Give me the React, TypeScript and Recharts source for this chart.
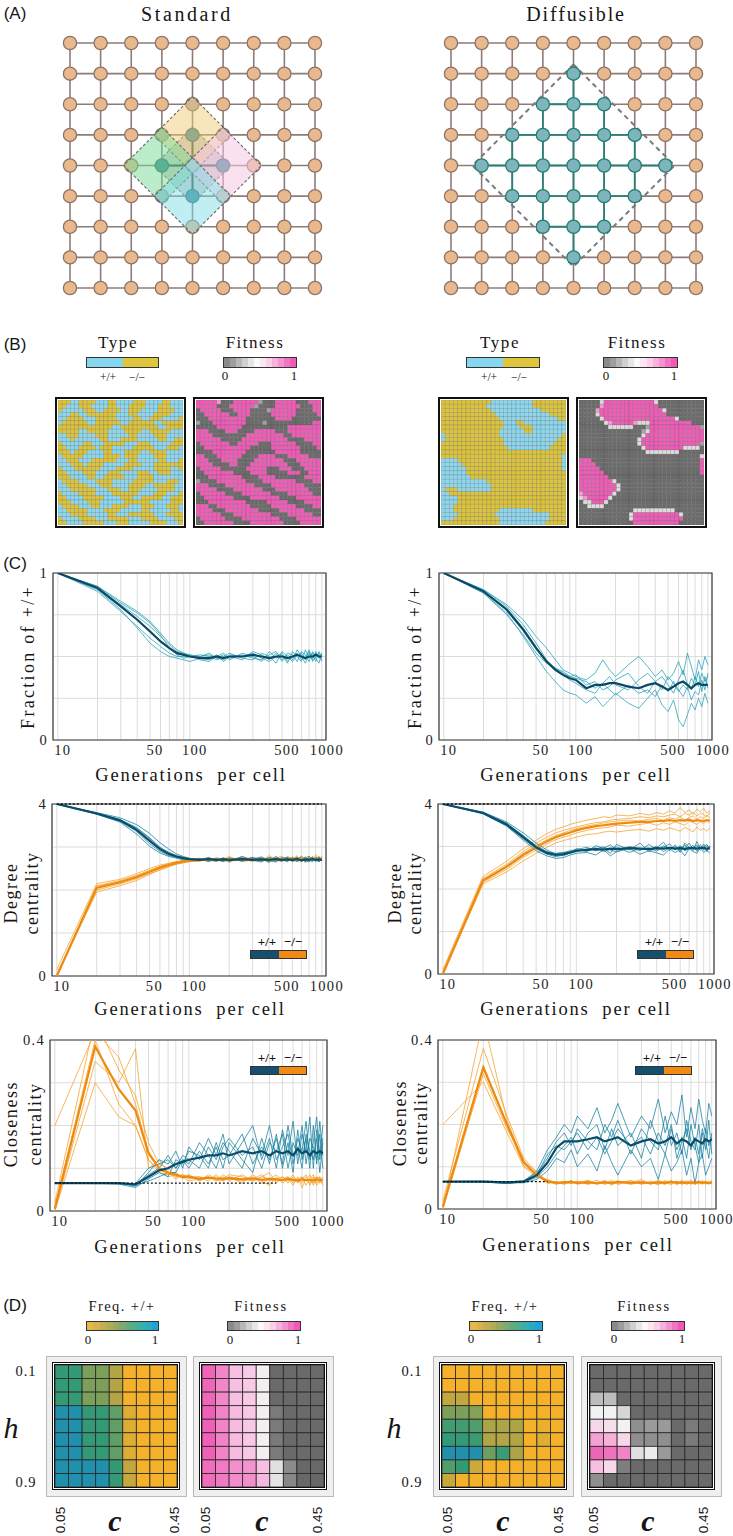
import React from "react";
import {
  ScatterChart,
  Scatter,
  LineChart,
  Line,
  XAxis,
  YAxis,
  CartesianGrid,
  ReferenceArea,
  ReferenceLine,
} from "recharts";

const SERIF = '"Liberation Serif", "Times New Roman", serif';
const SANS = '"Liberation Sans", Arial, sans-serif';

// ---------- (A) lattices ----------
const LAT = [0, 1, 2, 3, 4, 5, 6, 7, 8];
const STD_TEAL = [[4, 4], [4, 3], [3, 4], [5, 4], [4, 5]];
const STD_MAUVE = [[4, 2], [3, 3], [5, 3], [3, 5]];
const STD_ZONES = [
  { c: [4, 4], h: 1.25, fill: "rgba(80,80,80,0.28)" },
  { c: [4, 3], h: 1.25, fill: "rgba(240,205,120,0.5)" },
  { c: [3, 4], h: 1.25, fill: "rgba(120,220,150,0.5)" },
  { c: [5, 4], h: 1.25, fill: "rgba(246,200,228,0.55)" },
  { c: [4, 5], h: 1.25, fill: "rgba(130,222,232,0.5)" },
];
// row, first col, last col of the diffusible neighbourhood (same spans by column)
const DIF_SPANS = [[1, 4, 4], [2, 3, 5], [3, 2, 6], [4, 1, 7], [5, 2, 6], [6, 3, 5], [7, 4, 4]];
const DIF_ZONE = { c: [4, 4], h: 3.3 };

// ---------- (B) snapshots ----------
const STD_TYPE = [
  "yyybbyyyybbbyybbbbyyybbbbyybbb",
  "yybbbyyybbbbyybbbyyyybbbyyybbb",
  "ybbbbbyyybbyyyybbyyybbbbyyyybb",
  "bbbyybbyyyyyyybbbyybbbbyyyybbb",
  "bbyyyybbbyyyyybbbbyybbyyybbbby",
  "byyyyyybbyyyyyybbyyyyyybbyyyyy",
  "yyyyyyyyyyyyybbyyyyyyyyybbyyyy",
  "yyyyybbyyyyybbbbyyyybbyyyyybbb",
  "bbyyybbbbyyybbbbbyybbbbyyybbbb",
  "bbbybbbbbbyybbbyyyybbbbbyybbyy",
  "ybbbbbyybbbyyyyybbbyyybbbbbyyy",
  "yybbbyyyybyyybbbbbyyyyybbbyyyb",
  "yyybyyybbbbyybbbyyyybbyyyybbbb",
  "byyyyybbbbbyyyybyyybbbbyyybbbb",
  "bbyyybbbyyyyyybbbyybbbbbyybbby",
  "bbbyyybyyyybbbbbyyyybbbyyyyyyy",
  "ybbbyyyyyybbbbyyyybbbbbyyyybby",
  "yybbbbyyybbbyyybbbbyyybbyyybbb",
  "yyybbbbyybbyyyyybbbyyyybbbbbbb",
  "byyyybbbbyyyybbbbbyyyyybbbyyyb",
  "bbyyyyybbbyyybbbbyyyybbyyyyybb",
  "bbbyyyyyybbbyyybbyyybbbbyyyybb",
  "ybbbbyyyybbbbyyyyyybbbbyyybbby",
  "yybbbbyyyyybbbbyyybbyyyyybbyyy",
  "yyybbbbyyybbbbbbyyyyyybbbbbyyy",
  "byyyybbbyybbbyyyybbbyyybbbyyyb",
  "bbyyyyybbbbyyyybbbbbyybbbbbyyb",
  "bbbyyyybbbbbyybbbyyyyyybbbyyyy",
  "ybbbbyyyybbbyyyyybbbyyyybbbbyy",
  "yybbbbyyyyybbbyyybbbbbyyyybbby",
];
const STD_FIT = [
  "444443000444444100044444000444",
  "444440004444441000044444400044",
  "044444000444400001444444000044",
  "004444440044400000444444000004",
  "000444444444000000044440000000",
  "100044444444000010000000000044",
  "000004444440000000000044444444",
  "444000044400004444400044444444",
  "444400000000444444444004444444",
  "444444000004444444444400004444",
  "044444440044444000444444000044",
  "004444444444400000444444400004",
  "000044444444000000044444400000",
  "440004444440000444400044444000",
  "444000444400004444444000444444",
  "444400004400044444444400044444",
  "044444000000444440004440004444",
  "004444444000044440000044400444",
  "000444444440000444400000004444",
  "100004444444000044444444000044",
  "444000044444440000444444440000",
  "444440000444444400044444444000",
  "044444400004444444000044444400",
  "004444444000044444440000444444",
  "000444444444000004444400004444",
  "444004444444400000444444000044",
  "444400044444444000004444440000",
  "444444000444444444000044444400",
  "044444400004444444440000444444",
  "004444444000044444444000044444",
];
const DIF_TYPE = [
  "yyyyyyyyyyyybbbbbbbbbbyyyyyyyy",
  "yyyyyyyyyyybbbbbbbbbbbyyyyyyyy",
  "yyyyyyyyyyyybbbbbbbbbbbbyyyyyy",
  "yyyyyyyyyyyyybbbbbbbbbbbbbyyyy",
  "yyyyyyyyyyyyyybbbbbbbbbbbbbbyy",
  "yyyyyyyyyyyyyyybbbyybbbbbbbbbb",
  "yyyyyyyyyyyyyyybbbbyyybbbbbbbb",
  "yyyyyyyyyyyyyybbbbbbyybbbbbbbb",
  "byyyyyyyyyyyyybbbbbbbbbbbbbbby",
  "byyyyyyyyyyyyyybbbbbbbbbbbbbyy",
  "yyyyyyyyyyyyyyybbbbbbbbbbbbyyy",
  "yyyyyyyyyyyyyyyybbbbbbbbbbyyyy",
  "yyyyyyyyyyyyyyyyyyyyyyyyyyyyyy",
  "yyyyyyyyyyyyyyyyyyyyyyyyyyyyyb",
  "bbbbyyyyyyyyyyyyyyyyyyyyyyyyyb",
  "bbbbbyyyyyyyyyyyyyyyyyyyyyyyyb",
  "bbbbbbyyyyyyyyyyyyyyyyyyyyyyyb",
  "bbbbbbyyyyyyyyyyyyyyyyyyyyyyyy",
  "bbbbbbbyyyyyyyyyyyyyyyyyyyyyyy",
  "bbbbbbbbbbbyyyyyyyyyyyyyyyyyyy",
  "bbbbbbbbbbbbyyyyyyyyyyyyyyyyyy",
  "byyybbbbbbbbyyyyyyyyyyyyyyyyyy",
  "bbyyyyyyyyyyyyyyyyyyyyyyyyyyyy",
  "bbbbyyyyyyyyyyyyyyyyyyyyyyyyyy",
  "bbbbyyyyyyyyyyyyyyyyyyyyyyyyyy",
  "bbbyyyyyyyyyyyyyyyyyyyyyyyyyyy",
  "bbbyyyyyyyyyyybbbbbbbbyyyyyyyy",
  "bbbbyyyyyyyyybbbbbbbbbbbbbyyyy",
  "bbbyyyyyyyyyyybbbbbbbbbbbbyyyy",
  "yyyyyyyyyyyyyybbbbbbbbbbbyyyyy",
];
const DIF_FIT = [
  "000002444444444444200000000000",
  "000003444444444444400000000000",
  "000034444444444444442000000000",
  "000024444444444444444000000000",
  "000002444444444444444442000000",
  "000000234444432224444444444000",
  "000000022222200014444444444441",
  "000000000000000124444444444444",
  "000000000000000244444444444444",
  "000000000000002444444444444444",
  "000000000000002444444444444441",
  "000000000000000244444444422220",
  "000000000000000022222222000000",
  "000000000000000000000000000002",
  "444000000000000000000000000004",
  "444400000000000000000000000004",
  "444440000000000000000000000004",
  "444444000000000000000000000004",
  "444444400000000000000000000000",
  "444444442000000000000000000000",
  "444444444200000000000000000000",
  "444444444200000000000000000000",
  "344444442000000000000000000000",
  "234444420000000000000000000000",
  "022444200000000000000000000000",
  "002222000000000000000000000000",
  "000000000000022222222220000000",
  "000000000000244444444444200000",
  "000000000000244444444444400000",
  "000000000000044444444444000000",
];
const TYPE_COLORS: Record<string, string> = { b: "#8CD6EE", y: "#DCC33E" };
const FIT_COLORS: Record<string, string> = {
  "0": "#6B6B6B",
  "1": "#A4A4A4",
  "2": "#DCDCDC",
  "3": "#F49BD2",
  "4": "#EF5CB6",
};

// ---------- (C) time series ----------
const X = [10, 20, 30, 40, 50, 60, 70, 80, 90, 100, 120, 140, 160, 180, 200, 250, 300, 350, 400, 450, 500, 550, 600, 650, 700, 750, 800, 850, 900, 950, 1000];
const GRID_X = [10, 20, 30, 40, 50, 60, 70, 80, 90, 100, 200, 300, 400, 500, 600, 700, 800, 900, 1000];
const LABEL_X = [10, 50, 100, 500, 1000];
const XDOM: [number, number] = [9.2, 1075];

const FRAC_STD_MEAN = [1, .91, .80, .72, .65, .59, .55, .52, .51, .50, .49, .49, .50, .49, .50, .50, .51, .50, .49, .50, .50, .49, .50, .51, .50, .49, .50, .50, .51, .50, .50];
const FRAC_STD_RUNS = [
  [1, .92, .83, .77, .71, .64, .58, .54, .52, .51, .50, .52, .49, .51, .48, .52, .50, .47, .53, .49, .51, .46, .53, .50, .47, .54, .49, .52, .47, .53, .50],
  [1, .90, .78, .67, .58, .53, .50, .49, .48, .47, .49, .48, .51, .47, .50, .48, .53, .51, .48, .52, .47, .51, .48, .54, .50, .46, .52, .48, .53, .49, .51],
  [1, .91, .81, .74, .68, .62, .57, .53, .52, .50, .51, .50, .48, .50, .52, .49, .48, .52, .50, .46, .53, .50, .47, .51, .52, .48, .54, .47, .50, .52, .48],
  [1, .89, .77, .68, .61, .56, .52, .50, .50, .51, .48, .47, .50, .52, .49, .51, .49, .48, .51, .53, .48, .52, .51, .47, .53, .51, .47, .53, .49, .46, .52],
  [1, .92, .82, .76, .70, .63, .55, .51, .49, .50, .50, .51, .49, .48, .51, .50, .52, .49, .47, .50, .52, .47, .50, .52, .48, .50, .53, .49, .52, .50, .47],
];
const FRAC_DIF_MEAN = [1, .89, .78, .66, .55, .47, .42, .39, .37, .36, .31, .33, .33, .34, .34, .32, .31, .33, .34, .32, .30, .32, .34, .35, .33, .31, .33, .34, .33, .33, .33];
const FRAC_DIF_RUNS = [
  [1, .90, .81, .72, .62, .55, .48, .42, .40, .38, .36, .40, .48, .42, .38, .45, .50, .44, .38, .42, .36, .40, .47, .39, .52, .44, .36, .48, .42, .50, .45],
  [1, .88, .76, .62, .50, .41, .35, .30, .28, .27, .22, .26, .20, .24, .28, .22, .19, .25, .30, .21, .17, .24, .12, .08, .15, .22, .18, .25, .20, .28, .22],
  [1, .90, .80, .69, .58, .48, .43, .40, .38, .37, .35, .31, .34, .38, .33, .30, .36, .40, .35, .38, .33, .28, .36, .42, .33, .30, .38, .32, .40, .35, .38],
  [1, .88, .75, .63, .52, .46, .43, .41, .38, .39, .33, .35, .30, .32, .36, .40, .32, .28, .35, .30, .38, .34, .29, .33, .30, .37, .33, .41, .29, .38, .31],
  [1, .89, .79, .67, .56, .47, .43, .39, .36, .34, .30, .28, .34, .30, .27, .33, .28, .30, .26, .33, .29, .35, .30, .26, .32, .24, .29, .27, .36, .30, .40],
];

const DEG_STD_COOP_MEAN = [4, 3.78, 3.62, 3.40, 3.15, 2.95, 2.84, 2.78, 2.74, 2.72, 2.70, 2.72, 2.70, 2.71, 2.70, 2.72, 2.70, 2.71, 2.70, 2.72, 2.70, 2.71, 2.70, 2.72, 2.69, 2.71, 2.70, 2.72, 2.70, 2.71, 2.70];
const DEG_STD_COOP_RUNS = [
  [4, 3.80, 3.68, 3.52, 3.32, 3.10, 2.95, 2.84, 2.78, 2.74, 2.70, 2.76, 2.68, 2.74, 2.66, 2.78, 2.68, 2.73, 2.64, 2.78, 2.70, 2.66, 2.76, 2.68, 2.74, 2.64, 2.79, 2.70, 2.75, 2.65, 2.72],
  [4, 3.76, 3.58, 3.30, 3.02, 2.86, 2.78, 2.74, 2.70, 2.70, 2.72, 2.66, 2.73, 2.68, 2.75, 2.67, 2.72, 2.77, 2.69, 2.65, 2.74, 2.76, 2.66, 2.71, 2.77, 2.68, 2.65, 2.74, 2.68, 2.77, 2.69],
  [4, 3.79, 3.64, 3.45, 3.22, 3.00, 2.86, 2.78, 2.75, 2.73, 2.68, 2.74, 2.70, 2.66, 2.72, 2.75, 2.69, 2.65, 2.76, 2.70, 2.67, 2.75, 2.72, 2.66, 2.70, 2.77, 2.69, 2.66, 2.76, 2.70, 2.74],
  [4, 3.77, 3.60, 3.36, 3.08, 2.90, 2.80, 2.76, 2.72, 2.71, 2.73, 2.69, 2.67, 2.75, 2.70, 2.68, 2.76, 2.70, 2.67, 2.74, 2.69, 2.72, 2.67, 2.77, 2.66, 2.72, 2.74, 2.68, 2.71, 2.66, 2.75],
  [4, 3.78, 3.63, 3.44, 3.20, 2.98, 2.88, 2.80, 2.76, 2.70, 2.71, 2.73, 2.72, 2.70, 2.68, 2.70, 2.74, 2.68, 2.72, 2.67, 2.75, 2.69, 2.73, 2.70, 2.68, 2.74, 2.71, 2.77, 2.66, 2.73, 2.68],
];
const DEG_STD_DEF_MEAN = [0, 2.05, 2.18, 2.30, 2.42, 2.52, 2.58, 2.63, 2.66, 2.68, 2.70, 2.70, 2.71, 2.70, 2.72, 2.71, 2.70, 2.72, 2.71, 2.70, 2.72, 2.71, 2.73, 2.70, 2.72, 2.71, 2.70, 2.73, 2.71, 2.72, 2.71];
const DEG_STD_DEF_RUNS = [
  [0.15, 2.15, 2.25, 2.38, 2.50, 2.58, 2.62, 2.66, 2.68, 2.70, 2.74, 2.66, 2.76, 2.70, 2.64, 2.78, 2.72, 2.67, 2.80, 2.70, 2.66, 2.78, 2.74, 2.68, 2.80, 2.66, 2.76, 2.70, 2.82, 2.68, 2.76],
  [0.05, 1.95, 2.10, 2.22, 2.36, 2.48, 2.55, 2.60, 2.64, 2.66, 2.68, 2.74, 2.66, 2.72, 2.78, 2.66, 2.70, 2.76, 2.64, 2.74, 2.79, 2.67, 2.72, 2.80, 2.66, 2.74, 2.68, 2.78, 2.70, 2.66, 2.80],
  [0, 2.10, 2.22, 2.34, 2.46, 2.55, 2.62, 2.66, 2.69, 2.70, 2.72, 2.69, 2.74, 2.66, 2.73, 2.70, 2.76, 2.68, 2.73, 2.77, 2.68, 2.75, 2.70, 2.66, 2.78, 2.72, 2.67, 2.76, 2.73, 2.79, 2.68],
  [0, 2.00, 2.14, 2.26, 2.38, 2.46, 2.54, 2.60, 2.63, 2.66, 2.67, 2.72, 2.69, 2.75, 2.68, 2.73, 2.66, 2.75, 2.70, 2.68, 2.76, 2.70, 2.77, 2.71, 2.68, 2.75, 2.79, 2.68, 2.74, 2.70, 2.75],
  [0, 2.08, 2.20, 2.32, 2.44, 2.54, 2.60, 2.64, 2.67, 2.69, 2.71, 2.68, 2.72, 2.69, 2.75, 2.70, 2.73, 2.69, 2.76, 2.71, 2.73, 2.67, 2.74, 2.76, 2.70, 2.68, 2.75, 2.71, 2.67, 2.76, 2.72],
];
const DEG_DIF_COOP_MEAN = [4, 3.79, 3.52, 3.22, 2.98, 2.85, 2.80, 2.82, 2.86, 2.90, 2.92, 2.94, 2.93, 2.95, 2.94, 2.96, 2.95, 2.94, 2.96, 2.95, 2.97, 2.95, 2.96, 2.94, 2.97, 2.96, 2.95, 2.97, 2.96, 2.95, 2.96];
const DEG_DIF_COOP_RUNS = [
  [4, 3.81, 3.58, 3.32, 3.08, 2.92, 2.82, 2.78, 2.85, 2.95, 2.88, 3.02, 2.96, 2.84, 3.05, 2.92, 3.08, 2.88, 2.97, 3.10, 2.90, 3.04, 2.86, 3.08, 2.98, 2.90, 3.12, 2.94, 3.06, 2.88, 3.02],
  [4, 3.77, 3.48, 3.15, 2.90, 2.78, 2.72, 2.74, 2.80, 2.84, 2.86, 2.80, 2.92, 2.78, 2.88, 2.95, 2.82, 2.90, 2.85, 2.80, 2.94, 2.86, 2.92, 2.78, 2.96, 2.88, 2.84, 2.98, 2.86, 2.92, 2.84],
  [4, 3.80, 3.55, 3.26, 3.02, 2.88, 2.84, 2.86, 2.90, 2.93, 2.98, 2.90, 2.96, 3.04, 2.92, 2.98, 2.90, 3.05, 2.93, 2.98, 3.06, 2.92, 3.00, 2.96, 3.08, 2.94, 2.99, 3.04, 2.92, 3.02, 2.98],
  [4, 3.78, 3.50, 3.18, 2.95, 2.82, 2.76, 2.80, 2.84, 2.88, 2.94, 2.97, 2.88, 2.93, 2.99, 2.86, 2.96, 2.92, 3.01, 2.88, 2.97, 2.93, 3.02, 2.90, 2.95, 3.03, 2.89, 2.96, 3.01, 2.90, 2.97],
  [4, 3.79, 3.54, 3.24, 3.00, 2.87, 2.83, 2.85, 2.88, 2.91, 2.90, 2.95, 2.99, 2.92, 2.87, 3.00, 2.94, 2.97, 2.89, 3.02, 2.93, 2.99, 2.91, 3.04, 2.92, 2.98, 3.03, 2.91, 2.99, 3.05, 2.93],
];
const DEG_DIF_DEF_MEAN = [0, 2.20, 2.52, 2.80, 2.98, 3.12, 3.22, 3.28, 3.33, 3.38, 3.44, 3.48, 3.50, 3.52, 3.54, 3.56, 3.58, 3.58, 3.60, 3.60, 3.62, 3.60, 3.62, 3.61, 3.63, 3.60, 3.62, 3.61, 3.60, 3.62, 3.61];
const DEG_DIF_DEF_RUNS = [
  [0.1, 2.30, 2.65, 2.95, 3.15, 3.30, 3.40, 3.46, 3.52, 3.56, 3.62, 3.66, 3.70, 3.68, 3.74, 3.72, 3.78, 3.74, 3.80, 3.76, 3.84, 3.78, 3.92, 3.80, 3.86, 3.76, 3.88, 3.82, 3.90, 3.78, 3.85],
  [0, 2.12, 2.40, 2.66, 2.84, 2.98, 3.08, 3.14, 3.18, 3.22, 3.28, 3.30, 3.34, 3.36, 3.34, 3.38, 3.40, 3.36, 3.42, 3.38, 3.44, 3.40, 3.36, 3.45, 3.40, 3.34, 3.46, 3.38, 3.42, 3.36, 3.44],
  [0, 2.22, 2.55, 2.84, 3.02, 3.16, 3.26, 3.32, 3.38, 3.42, 3.48, 3.52, 3.55, 3.58, 3.60, 3.62, 3.60, 3.64, 3.66, 3.62, 3.68, 3.64, 3.70, 3.62, 3.68, 3.72, 3.64, 3.70, 3.66, 3.74, 3.66],
  [0, 2.16, 2.46, 2.74, 2.92, 3.06, 3.16, 3.22, 3.26, 3.32, 3.38, 3.42, 3.44, 3.46, 3.50, 3.48, 3.52, 3.55, 3.50, 3.56, 3.52, 3.58, 3.54, 3.50, 3.60, 3.56, 3.52, 3.58, 3.54, 3.62, 3.55],
  [0.05, 2.25, 2.58, 2.88, 3.08, 3.22, 3.32, 3.38, 3.42, 3.46, 3.52, 3.56, 3.58, 3.62, 3.64, 3.66, 3.70, 3.68, 3.72, 3.70, 3.74, 3.76, 3.70, 3.78, 3.74, 3.80, 3.72, 3.78, 3.76, 3.70, 3.80],
];

const CLO_STD_COOP_MEAN = [.065, .065, .065, .062, .08, .095, .10, .11, .115, .12, .125, .13, .13, .135, .13, .14, .135, .14, .13, .14, .135, .14, .13, .145, .135, .14, .13, .14, .135, .14, .135];
const CLO_STD_COOP_RUNS = [
  [.065, .065, .066, .058, .09, .12, .11, .14, .10, .15, .12, .17, .13, .18, .11, .16, .20, .12, .17, .10, .19, .13, .21, .11, .18, .14, .22, .10, .19, .13, .20],
  [.065, .064, .064, .060, .07, .08, .09, .09, .12, .10, .14, .11, .15, .10, .16, .12, .09, .17, .11, .18, .10, .16, .09, .19, .12, .17, .10, .20, .11, .18, .10],
  [.065, .066, .065, .063, .085, .10, .13, .10, .13, .12, .10, .15, .12, .16, .14, .10, .17, .13, .20, .12, .15, .18, .11, .17, .14, .21, .12, .16, .22, .12, .17],
  [.065, .065, .063, .055, .075, .09, .08, .12, .11, .14, .13, .10, .16, .12, .13, .18, .11, .15, .12, .17, .11, .20, .13, .15, .10, .18, .14, .12, .17, .09, .16],
  [.065, .065, .066, .064, .10, .11, .12, .10, .12, .11, .16, .13, .10, .15, .17, .13, .15, .10, .16, .14, .18, .10, .16, .13, .20, .11, .17, .15, .12, .21, .13],
];
const CLO_STD_DEF_MEAN = [.005, .385, .285, .235, .135, .10, .09, .085, .08, .08, .075, .078, .076, .075, .077, .074, .076, .073, .075, .074, .072, .075, .073, .071, .074, .072, .073, .071, .074, .072, .073];
const CLO_STD_DEF_RUNS = [
  [.02, .45, .33, .27, .16, .11, .10, .08, .085, .075, .08, .07, .085, .07, .08, .065, .085, .07, .06, .08, .065, .075, .06, .08, .055, .075, .065, .08, .06, .07, .065],
  [0, .30, .22, .20, .12, .09, .085, .09, .075, .085, .07, .085, .075, .08, .07, .085, .07, .08, .09, .065, .08, .07, .085, .065, .08, .07, .085, .06, .08, .075, .07],
  [.20, .42, .36, .25, .14, .10, .08, .085, .08, .07, .075, .08, .07, .085, .075, .07, .08, .065, .075, .085, .07, .08, .065, .075, .08, .06, .075, .085, .065, .08, .06],
  [0, .35, .30, .38, .10, .12, .09, .075, .085, .08, .08, .075, .08, .075, .085, .08, .075, .085, .07, .075, .08, .065, .08, .07, .075, .085, .06, .075, .08, .065, .08],
  [.01, .40, .25, .20, .12, .095, .09, .08, .08, .085, .07, .08, .072, .07, .08, .075, .07, .08, .075, .07, .075, .08, .07, .075, .065, .08, .07, .065, .075, .08, .07],
];
const CLO_DIF_COOP_MEAN = [.065, .065, .063, .065, .08, .11, .145, .16, .16, .16, .165, .17, .16, .165, .17, .15, .16, .165, .155, .16, .17, .155, .165, .16, .15, .165, .16, .155, .165, .16, .165];
const CLO_DIF_COOP_RUNS = [
  [.065, .064, .060, .066, .09, .14, .17, .20, .18, .22, .19, .24, .18, .21, .25, .17, .22, .19, .26, .18, .23, .20, .27, .17, .24, .19, .26, .21, .18, .25, .22],
  [.065, .065, .062, .062, .07, .09, .12, .11, .14, .10, .13, .09, .15, .11, .08, .14, .10, .12, .07, .13, .09, .11, .14, .08, .12, .06, .11, .13, .08, .10, .12],
  [.065, .066, .064, .067, .085, .12, .16, .18, .15, .19, .16, .14, .20, .17, .21, .13, .19, .16, .14, .22, .15, .18, .13, .21, .16, .14, .20, .12, .19, .15, .17],
  [.065, .064, .061, .064, .075, .10, .13, .15, .17, .13, .18, .20, .14, .19, .15, .18, .12, .21, .16, .13, .19, .14, .17, .12, .20, .15, .11, .18, .14, .21, .13],
  [.065, .065, .063, .066, .08, .13, .15, .14, .16, .18, .14, .17, .13, .16, .19, .15, .17, .13, .18, .15, .20, .12, .16, .19, .14, .17, .13, .19, .16, .12, .18],
];
const CLO_DIF_DEF_MEAN = [.005, .335, .20, .11, .08, .065, .062, .063, .064, .062, .063, .061, .063, .062, .064, .062, .063, .061, .063, .062, .064, .062, .063, .061, .063, .062, .064, .062, .063, .061, .063];
const CLO_DIF_DEF_RUNS = [
  [.02, .38, .22, .12, .085, .06, .065, .06, .068, .058, .066, .06, .068, .056, .066, .062, .07, .058, .066, .06, .068, .057, .066, .062, .069, .058, .066, .06, .067, .058, .066],
  [.20, .30, .18, .10, .075, .07, .06, .066, .06, .066, .058, .064, .06, .068, .058, .066, .06, .064, .057, .067, .06, .066, .058, .064, .06, .067, .058, .065, .06, .066, .058],
  [0, .45, .21, .11, .09, .062, .064, .058, .066, .06, .066, .058, .064, .062, .06, .068, .058, .066, .062, .058, .066, .06, .068, .058, .064, .06, .067, .058, .065, .06, .068],
  [0, .32, .19, .115, .078, .066, .058, .064, .06, .065, .06, .068, .058, .064, .066, .058, .064, .06, .068, .062, .058, .066, .06, .067, .058, .065, .06, .068, .058, .064, .06],
  [.01, .34, .20, .10, .082, .068, .063, .06, .064, .062, .068, .06, .066, .058, .064, .06, .066, .062, .059, .066, .062, .064, .06, .066, .062, .058, .066, .061, .064, .06, .066],
];

// ---------- (D) parameter sweeps (rows h=0.1..0.9, cols c=0.05..0.45) ----------
const STD_FREQ = [
  [.7, .7, .45, .45, .27, 0, 0, 0, 0],
  [.7, .7, .45, .45, .27, 0, 0, 0, 0],
  [.7, .7, .45, .45, .27, 0, 0, 0, 0],
  [.95, .95, .7, .7, .55, .1, 0, 0, 0],
  [.95, .95, .7, .7, .55, .1, 0, 0, 0],
  [.95, .95, .7, .7, .55, .1, 0, 0, 0],
  [.95, .95, .7, .7, .55, .1, 0, 0, 0],
  [.95, .95, .95, .95, .7, .22, 0, 0, 0],
  [.95, .95, .95, .95, .7, .2, 0, 0, 0],
];
const STD_FITD = [
  [.95, .87, .72, .68, .52, .03, .03, .03, .03],
  [.95, .87, .72, .68, .52, .03, .03, .03, .03],
  [.95, .87, .72, .68, .52, .03, .03, .03, .03],
  [.96, .88, .73, .69, .52, .1, .03, .03, .03],
  [.96, .88, .73, .69, .52, .1, .03, .03, .03],
  [.96, .88, .73, .69, .52, .1, .03, .03, .03],
  [.96, .88, .73, .69, .52, .1, .03, .03, .03],
  [.93, .9, .85, .84, .72, .45, .18, .02, .02],
  [.93, .9, .86, .85, .74, .46, .16, .02, .02],
];
const DIF_FREQ = [
  [0, 0, 0, 0, 0, 0, 0, 0, 0],
  [0, 0, 0, 0, 0, 0, 0, 0, 0],
  [.22, .22, 0, 0, 0, 0, 0, 0, 0],
  [.45, .45, .42, 0, 0, 0, 0, 0, 0],
  [.65, .65, .6, .3, .3, .3, 0, .05, 0],
  [.7, .7, .68, .28, .28, .28, 0, .1, 0],
  [.95, .95, .95, .5, .68, .3, 0, 0, 0],
  [.6, .7, .18, 0, 0, 0, 0, 0, 0],
  [.2, 0, 0, 0, 0, 0, 0, 0, 0],
];
const DIF_FITD = [
  [.03, .03, .03, .03, .03, .03, .03, .03, .03],
  [.03, .03, .03, .03, .03, .03, .03, .03, .03],
  [.35, .35, .03, .03, .03, .03, .03, .03, .03],
  [.5, .5, .42, .03, .03, .03, .03, .03, .03],
  [.62, .58, .5, .2, .25, .25, .03, .1, .03],
  [.8, .76, .62, .2, .2, .2, .03, .1, .03],
  [.95, .92, .88, .45, .48, .25, .03, .03, .03],
  [.72, .62, .12, .03, .03, .03, .03, .03, .03],
  [.2, .03, .03, .03, .03, .03, .03, .03, .03],
];

const FREQ_STOPS: [number, string][] = [[0, "#F6B12A"], [0.25, "#BAA641"], [0.45, "#7CA05A"], [0.72, "#2E9A78"], [1, "#1E8EB8"]];
const FIT_STOPS: [number, string][] = [[0, "#646464"], [0.25, "#9A9A9A"], [0.5, "#F2F2F2"], [0.7, "#F8C6E4"], [0.85, "#F290CC"], [1, "#EE4FAE"]];

const FIT_BAR = ["#8a8a8a", "#9e9e9e", "#b8b8b8", "#d0d0d0", "#e6e6e6", "#fafafa", "#fde6f3", "#fbcfe8", "#f8b1dc", "#f592cf", "#f275c3", "#ef5ab6"];
const FREQ_BAR = ["#E6B84A", "#D8B24F", "#C6AE55", "#B0AC5B", "#98AA62", "#7FAA6D", "#64AC7E", "#4CAE93", "#3AAEAC", "#2AAAC4", "#1EA4D2"];
const TYPE_BAR = ["#87D6EF", "#DEC63E"];
const LEG_BAR = ["#15506E", "#F08A12"];

const hex = (h: string) => [1, 3, 5].map((i) => parseInt(h.slice(i, i + 2), 16));
function cmap(stops: [number, string][], v: number) {
  for (let i = 1; i < stops.length; i++) {
    if (v <= stops[i][0]) {
      const [a, ca] = stops[i - 1];
      const [b, cb] = stops[i];
      const t = (v - a) / (b - a);
      const A = hex(ca), B = hex(cb);
      return `rgb(${A.map((q, k) => Math.round(q + (B[k] - q) * t)).join(",")})`;
    }
  }
  return stops[stops.length - 1][1];
}

// ---------- helpers ----------
const Txt = ({ x, y, size = 14, font = SERIF, rot = 0, italic = false, bold = false, ls = 0, children }: any) => (
  <div
    style={{
      position: "absolute",
      left: x,
      top: y,
      transform: `translate(-50%,-50%) rotate(${rot}deg)`,
      fontSize: size,
      fontFamily: font,
      fontStyle: italic ? "italic" : "normal",
      fontWeight: bold ? 700 : 400,
      letterSpacing: ls,
      whiteSpace: "pre",
      lineHeight: 1.15,
      color: "#151515",
    }}
  >
    {children}
  </div>
);

const ColorBar = ({ x, y, w, h, colors }: any) => (
  <div
    style={{
      position: "absolute",
      left: x,
      top: y,
      width: w,
      height: h,
      display: "flex",
      border: "1px solid #333",
      boxSizing: "border-box",
    }}
  >
    {colors.map((c: string, i: number) => (
      <div key={i} style={{ flex: 1, background: c }} />
    ))}
  </div>
);

const noDot = () => <g />;

function Lattice({ left, top, kind }: { left: number; top: number; kind: "std" | "dif" }) {
  const tealSet = new Set<string>();
  if (kind === "std") STD_TEAL.forEach(([c, r]) => tealSet.add(`${c},${r}`));
  else DIF_SPANS.forEach(([r, a, b]) => LAT.filter((c) => c >= a && c <= b).forEach((c) => tealSet.add(`${c},${r}`)));
  const mauveSet = new Set(kind === "std" ? STD_MAUVE.map(([c, r]) => `${c},${r}`) : []);
  const nodes = LAT.flatMap((r) =>
    LAT.map((c) => ({ x: c, y: r, k: tealSet.has(`${c},${r}`) ? "t" : mauveSet.has(`${c},${r}`) ? "m" : "n" }))
  );
  const fill: Record<string, string> = kind === "std"
    ? { n: "#E9B98D", t: "#35A0B0", m: "#B7A0A6" }
    : { n: "#E9B98D", t: "#7EB4BC", m: "#B7A0A6" };
  const stroke: Record<string, string> = kind === "std"
    ? { n: "#8E7468", t: "#1D6E78", m: "#7E6670" }
    : { n: "#8E7468", t: "#237E72", m: "#7E6670" };
  const edge = "#8C7C79";
  const tealEdge = kind === "std" ? "#2B4C4E" : "#2A8074";
  const tealSegs: { x: number; y: number }[][] = [];
  if (kind === "std") {
    tealSegs.push([{ x: 3, y: 4 }, { x: 5, y: 4 }], [{ x: 4, y: 3 }, { x: 4, y: 5 }]);
  } else {
    DIF_SPANS.forEach(([r, a, b]) => {
      if (b > a) {
        tealSegs.push([{ x: a, y: r }, { x: b, y: r }]);
        tealSegs.push([{ x: r, y: a }, { x: r, y: b }]);
      }
    });
  }
  const diamond = (c: number[], h: number) => [
    { x: c[0], y: c[1] - h },
    { x: c[0] + h, y: c[1] },
    { x: c[0], y: c[1] + h },
    { x: c[0] - h, y: c[1] },
    { x: c[0], y: c[1] - h },
  ];
  return (
    <div style={{ position: "absolute", left, top }}>
      <ScatterChart width={275} height={275} margin={{ top: 15, right: 15, bottom: 15, left: 15 }}>
        <XAxis type="number" dataKey="x" domain={[0, 8]} hide />
        <YAxis type="number" dataKey="y" domain={[0, 8]} reversed hide />
        {LAT.map((r) => (
          <Scatter key={`r${r}`} data={[{ x: 0, y: r }, { x: 8, y: r }]} line={{ stroke: edge, strokeWidth: 1.6 }} shape={noDot} isAnimationActive={false} />
        ))}
        {LAT.map((c) => (
          <Scatter key={`c${c}`} data={[{ x: c, y: 0 }, { x: c, y: 8 }]} line={{ stroke: edge, strokeWidth: 1.6 }} shape={noDot} isAnimationActive={false} />
        ))}
        {tealSegs.map((s, i) => (
          <Scatter key={`t${i}`} data={s} line={{ stroke: tealEdge, strokeWidth: 1.8 }} shape={noDot} isAnimationActive={false} />
        ))}
        {kind === "dif" && (
          <Scatter
            data={diamond(DIF_ZONE.c, DIF_ZONE.h)}
            line={{ stroke: "#7a7a7a", strokeWidth: 2, strokeDasharray: "5 4", fill: "none" }}
            shape={noDot}
            isAnimationActive={false}
          />
        )}
        <Scatter
          data={nodes}
          isAnimationActive={false}
          shape={(p: any) => (
            <circle cx={p.cx} cy={p.cy} r={6.6} fill={fill[p.payload.k]} stroke={stroke[p.payload.k]} strokeWidth={1.3} />
          )}
        />
        {kind === "std" &&
          STD_ZONES.map((z, i) => (
            <Scatter
              key={`z${i}`}
              data={diamond(z.c, z.h)}
              line={{ fill: z.fill, stroke: "#6a6a6a", strokeWidth: 1.1, strokeDasharray: "3 2", strokeLinejoin: "round" }}
              shape={noDot}
              isAnimationActive={false}
            />
          ))}
      </ScatterChart>
    </div>
  );
}

function CellGrid({ left, top, rows, colors }: { left: number; top: number; rows: string[]; colors: Record<string, string> }) {
  const n = rows.length;
  const size = 125;
  const px = size / n;
  const cells = rows.flatMap((s, r) => s.split("").map((ch, c) => ({ x: c + 0.5, y: r + 0.5, v: ch })));
  return (
    <div
      style={{
        position: "absolute",
        left,
        top,
        width: 131,
        height: 131,
        boxSizing: "border-box",
        border: "2px solid #111",
        padding: 1,
        background: "#fff",
      }}
    >
      <ScatterChart width={size} height={size} margin={{ top: 0, right: 0, bottom: 0, left: 0 }}>
        <XAxis type="number" dataKey="x" domain={[0, n]} hide />
        <YAxis type="number" dataKey="y" domain={[0, n]} reversed hide />
        <Scatter
          data={cells}
          isAnimationActive={false}
          shape={(p: any) => (
            <rect x={p.cx - px / 2} y={p.cy - px / 2} width={px} height={px} fill={colors[p.payload.v]} stroke="rgba(70,70,70,0.35)" strokeWidth={0.5} />
          )}
        />
      </ScatterChart>
    </div>
  );
}

function HeatMap({ left, top, vals, stops }: { left: number; top: number; vals: number[][]; stops: [number, string][] }) {
  const n = vals.length;
  const size = 122;
  const px = size / n;
  const cells = vals.flatMap((row, r) => row.map((v, c) => ({ x: c + 0.5, y: r + 0.5, v })));
  return (
    <div
      style={{
        position: "absolute",
        left,
        top,
        width: 141,
        height: 141,
        boxSizing: "border-box",
        background: "#efefef",
        border: "1px solid #b8b8b8",
      }}
    >
      <div
        style={{
          position: "absolute",
          left: 5,
          top: 5,
          width: 128,
          height: 128,
          boxSizing: "border-box",
          border: "3px double #111",
          background: "#fff",
        }}
      />
      <div style={{ position: "absolute", left: 8, top: 8 }}>
        <ScatterChart width={size} height={size} margin={{ top: 0, right: 0, bottom: 0, left: 0 }}>
          <XAxis type="number" dataKey="x" domain={[0, n]} hide />
          <YAxis type="number" dataKey="y" domain={[0, n]} reversed hide />
          <Scatter
            data={cells}
            isAnimationActive={false}
            shape={(p: any) => (
              <rect x={p.cx - px / 2} y={p.cy - px / 2} width={px} height={px} fill={cmap(stops, p.payload.v)} stroke="#262626" strokeWidth={0.8} />
            )}
          />
        </ScatterChart>
      </div>
    </div>
  );
}

type Group = { runs: number[][]; mean: number[]; thin: string; bold: string };

function LinePanel({
  left,
  top,
  w,
  h,
  yMax,
  groups,
  dotted,
}: {
  left: number;
  top: number;
  w: number;
  h: number;
  yMax: number;
  groups: Group[];
  dotted?: { y: number; to: number };
}) {
  const data = X.map((x, i) => {
    const row: Record<string, number> = { x };
    groups.forEach((g, gi) => {
      g.runs.forEach((r, ri) => {
        row[`g${gi}r${ri}`] = r[i];
      });
      row[`g${gi}m`] = g.mean[i];
    });
    return row;
  });
  const yt = [0, yMax / 4, yMax / 2, (3 * yMax) / 4, yMax];
  const tick = { fontFamily: SERIF, fontSize: 14.5, fill: "#222", letterSpacing: 1.3 };
  return (
    <div style={{ position: "absolute", left: left - 50, top: top - 12 }}>
      <LineChart width={w + 70} height={h + 42} data={data} margin={{ top: 12, right: 20, left: 0, bottom: 0 }}>
        <CartesianGrid stroke="#dcdcdc" strokeWidth={1} />
        <XAxis
          dataKey="x"
          type="number"
          scale="log"
          domain={XDOM}
          allowDataOverflow
          ticks={GRID_X}
          interval={0}
          tickFormatter={(v: number) => (LABEL_X.includes(v) ? String(v) : "")}
          axisLine={false}
          tickLine={false}
          tickSize={3}
          height={30}
          tick={{ ...tick, dx: 5 }}
        />
        <YAxis
          type="number"
          domain={[0, yMax]}
          allowDataOverflow
          ticks={yt}
          interval={0}
          tickFormatter={(v: number) => (v === 0 ? "0" : v === yMax ? String(yMax) : "")}
          axisLine={false}
          tickLine={false}
          tickSize={3}
          width={50}
          tick={tick}
        />
        {groups.map((g, gi) =>
          g.runs.map((_, ri) => (
            <Line
              key={`g${gi}r${ri}`}
              dataKey={`g${gi}r${ri}`}
              stroke={g.thin}
              strokeWidth={0.9}
              strokeOpacity={0.85}
              dot={false}
              activeDot={false}
              isAnimationActive={false}
            />
          ))
        )}
        {groups.map((g, gi) => (
          <Line key={`g${gi}m`} dataKey={`g${gi}m`} stroke={g.bold} strokeWidth={2.2} dot={false} activeDot={false} isAnimationActive={false} />
        ))}
        {dotted && (
          <ReferenceLine
            segment={[{ x: 10, y: dotted.y }, { x: dotted.to, y: dotted.y }]}
            stroke="#111"
            strokeWidth={1.3}
            strokeDasharray="2 2"
            ifOverflow="visible"
          />
        )}
        <ReferenceArea x1={XDOM[0]} x2={XDOM[1]} y1={0} y2={yMax} fill="none" stroke="#3a3a3a" strokeWidth={1.2} ifOverflow="visible" />
      </LineChart>
    </div>
  );
}

const FRAC_THIN = "#22A0B6";
const FRAC_BOLD = "#0D4763";
const COOP_THIN = "#12809E";
const COOP_BOLD = "#0B4C6A";
const DEF_THIN = "#F5A128";
const DEF_BOLD = "#EF8A0E";

const Legend = ({ x, yText, yBar }: any) => (
  <>
    <Txt x={x + 17} y={yText} size={13} bold>+/+</Txt>
    <Txt x={x + 43} y={yText} size={13} bold>−/−</Txt>
    <ColorBar x={x} y={yBar} w={57} h={9} colors={LEG_BAR} />
  </>
);

export default function App() {
  const genTitle = "Generations\u00A0 per cell";
  const AX = { size: 18.5, ls: 1.8 };
  return (
    <div style={{ position: "absolute", left: 0, top: 0, width: 733, height: 1536, background: "#fff", overflow: "hidden" }}>
      {/* (A) */}
      <Txt x={15} y={14} size={17} font={SANS}>(A)</Txt>
      <Txt x={187} y={14} size={20} ls={2.6}>Standard</Txt>
      <Txt x={576} y={14} size={20} ls={1.9}>Diffusible</Txt>
      <Lattice left={55} top={28} kind="std" />
      <Lattice left={436} top={28} kind="dif" />

      {/* (B) */}
      <Txt x={15} y={345} size={17} font={SANS}>(B)</Txt>
      <Txt x={118} y={343} size={17} ls={1.6}>Type</Txt>
      <ColorBar x={86} y={357} w={73} h={11} colors={TYPE_BAR} />
      <Txt x={108} y={378} size={11.5}>+/+</Txt>
      <Txt x={137} y={378} size={11.5}>−/−</Txt>
      <Txt x={255} y={343} size={17} ls={1.5}>Fitness</Txt>
      <ColorBar x={223} y={357} w={74} h={11} colors={FIT_BAR} />
      <Txt x={225} y={376} size={13}>0</Txt>
      <Txt x={294} y={376} size={13}>1</Txt>
      <CellGrid left={55} top={397} rows={STD_TYPE} colors={TYPE_COLORS} />
      <CellGrid left={193} top={397} rows={STD_FIT} colors={FIT_COLORS} />

      <Txt x={500} y={343} size={17} ls={1.6}>Type</Txt>
      <ColorBar x={466} y={357} w={74} h={11} colors={TYPE_BAR} />
      <Txt x={489} y={378} size={11.5}>+/+</Txt>
      <Txt x={519} y={378} size={11.5}>−/−</Txt>
      <Txt x={637} y={343} size={17} ls={1.5}>Fitness</Txt>
      <ColorBar x={603} y={357} w={75} h={11} colors={FIT_BAR} />
      <Txt x={606} y={376} size={13}>0</Txt>
      <Txt x={674} y={376} size={13}>1</Txt>
      <CellGrid left={438} top={397} rows={DIF_TYPE} colors={TYPE_COLORS} />
      <CellGrid left={576} top={397} rows={DIF_FIT} colors={FIT_COLORS} />

      {/* (C) */}
      <Txt x={15} y={564} size={17} font={SANS}>(C)</Txt>
      <LinePanel left={53} top={573} w={273} h={167} yMax={1}
        groups={[{ runs: FRAC_STD_RUNS, mean: FRAC_STD_MEAN, thin: FRAC_THIN, bold: FRAC_BOLD }]} />
      <LinePanel left={439} top={573} w={273} h={167} yMax={1}
        groups={[{ runs: FRAC_DIF_RUNS, mean: FRAC_DIF_MEAN, thin: FRAC_THIN, bold: FRAC_BOLD }]} />
      <Txt x={28} y={657} size={18} ls={2.3} rot={-90}>Fraction of +/+</Txt>
      <Txt x={415} y={657} size={18} ls={2.3} rot={-90}>Fraction of +/+</Txt>
      <Txt x={191} y={776} {...AX}>{genTitle}</Txt>
      <Txt x={576} y={776} {...AX}>{genTitle}</Txt>

      <LinePanel left={52} top={804} w={274} h={172} yMax={4} dotted={{ y: 4, to: 1000 }}
        groups={[
          { runs: DEG_STD_DEF_RUNS, mean: DEG_STD_DEF_MEAN, thin: DEF_THIN, bold: DEF_BOLD },
          { runs: DEG_STD_COOP_RUNS, mean: DEG_STD_COOP_MEAN, thin: COOP_THIN, bold: COOP_BOLD },
        ]} />
      <LinePanel left={438} top={804} w={276} h={170} yMax={4} dotted={{ y: 4, to: 1000 }}
        groups={[
          { runs: DEG_DIF_DEF_RUNS, mean: DEG_DIF_DEF_MEAN, thin: DEF_THIN, bold: DEF_BOLD },
          { runs: DEG_DIF_COOP_RUNS, mean: DEG_DIF_COOP_MEAN, thin: COOP_THIN, bold: COOP_BOLD },
        ]} />
      <Txt x={11} y={893} size={18} ls={1.5} rot={-90}>Degree</Txt>
      <Txt x={32} y={893} size={18} ls={1.5} rot={-90}>centrality</Txt>
      <Txt x={395} y={893} size={18} ls={1.5} rot={-90}>Degree</Txt>
      <Txt x={415} y={893} size={18} ls={1.5} rot={-90}>centrality</Txt>
      <Legend x={250} yText={942} yBar={950} />
      <Legend x={637} yText={942} yBar={950} />
      <Txt x={190} y={1010} {...AX}>{genTitle}</Txt>
      <Txt x={576} y={1010} {...AX}>{genTitle}</Txt>

      <LinePanel left={50} top={1040} w={277} h={171} yMax={0.4} dotted={{ y: 0.065, to: 450 }}
        groups={[
          { runs: CLO_STD_DEF_RUNS, mean: CLO_STD_DEF_MEAN, thin: DEF_THIN, bold: DEF_BOLD },
          { runs: CLO_STD_COOP_RUNS, mean: CLO_STD_COOP_MEAN, thin: COOP_THIN, bold: COOP_BOLD },
        ]} />
      <LinePanel left={438} top={1040} w={278} h={169} yMax={0.4} dotted={{ y: 0.065, to: 60 }}
        groups={[
          { runs: CLO_DIF_DEF_RUNS, mean: CLO_DIF_DEF_MEAN, thin: DEF_THIN, bold: DEF_BOLD },
          { runs: CLO_DIF_COOP_RUNS, mean: CLO_DIF_COOP_MEAN, thin: COOP_THIN, bold: COOP_BOLD },
        ]} />
      <Txt x={11} y={1124} size={18} ls={1.6} rot={-90}>Closeness</Txt>
      <Txt x={35} y={1124} size={18} ls={1.5} rot={-90}>centrality</Txt>
      <Txt x={400} y={1123} size={18} ls={1.6} rot={-90}>Closeness</Txt>
      <Txt x={421} y={1123} size={18} ls={1.5} rot={-90}>centrality</Txt>
      <Legend x={250} yText={1058} yBar={1066} />
      <Legend x={635} yText={1058} yBar={1066} />
      <Txt x={190} y={1248} {...AX}>{genTitle}</Txt>
      <Txt x={578} y={1246} {...AX}>{genTitle}</Txt>

      {/* (D) */}
      <Txt x={15} y={1306} size={17} font={SANS}>(D)</Txt>
      <Txt x={122} y={1306} size={14.5} ls={1.4}>Freq. +/+</Txt>
      <ColorBar x={86} y={1321} w={73} h={10} colors={FREQ_BAR} />
      <Txt x={88} y={1340} size={13}>0</Txt>
      <Txt x={155} y={1340} size={13}>1</Txt>
      <Txt x={261} y={1306} size={14.5} ls={1.8}>Fitness</Txt>
      <ColorBar x={227} y={1321} w={74} h={10} colors={FIT_BAR} />
      <Txt x={230} y={1340} size={13}>0</Txt>
      <Txt x={298} y={1340} size={13}>1</Txt>
      <HeatMap left={46} top={1356} vals={STD_FREQ} stops={FREQ_STOPS} />
      <HeatMap left={193} top={1356} vals={STD_FITD} stops={FIT_STOPS} />
      <Txt x={26} y={1371} size={14.5} ls={1}>0.1</Txt>
      <Txt x={26} y={1482} size={14.5} ls={1}>0.9</Txt>
      <Txt x={11} y={1428} size={30} italic>h</Txt>
      <Txt x={61} y={1520} size={13.5} font={SANS} rot={-90}>0.05</Txt>
      <Txt x={175} y={1520} size={13.5} font={SANS} rot={-90}>0.45</Txt>
      <Txt x={115} y={1521} size={30} italic bold>c</Txt>
      <Txt x={206} y={1520} size={13.5} font={SANS} rot={-90}>0.05</Txt>
      <Txt x={318} y={1520} size={13.5} font={SANS} rot={-90}>0.45</Txt>
      <Txt x={262} y={1521} size={30} italic bold>c</Txt>

      <Txt x={505} y={1306} size={14.5} ls={1.4}>Freq. +/+</Txt>
      <ColorBar x={469} y={1321} w={74} h={10} colors={FREQ_BAR} />
      <Txt x={471} y={1339} size={13}>0</Txt>
      <Txt x={539} y={1339} size={13}>1</Txt>
      <Txt x={644} y={1306} size={14.5} ls={1.8}>Fitness</Txt>
      <ColorBar x={611} y={1321} w={74} h={10} colors={FIT_BAR} />
      <Txt x={614} y={1339} size={13}>0</Txt>
      <Txt x={682} y={1339} size={13}>1</Txt>
      <HeatMap left={433} top={1356} vals={DIF_FREQ} stops={FREQ_STOPS} />
      <HeatMap left={581} top={1356} vals={DIF_FITD} stops={FIT_STOPS} />
      <Txt x={412} y={1371} size={14.5} ls={1}>0.1</Txt>
      <Txt x={412} y={1482} size={14.5} ls={1}>0.9</Txt>
      <Txt x={394} y={1428} size={30} italic>h</Txt>
      <Txt x={448} y={1520} size={13.5} font={SANS} rot={-90}>0.05</Txt>
      <Txt x={559} y={1520} size={13.5} font={SANS} rot={-90}>0.45</Txt>
      <Txt x={503} y={1521} size={30} italic bold>c</Txt>
      <Txt x={594} y={1520} size={13.5} font={SANS} rot={-90}>0.05</Txt>
      <Txt x={704} y={1520} size={13.5} font={SANS} rot={-90}>0.45</Txt>
      <Txt x={648} y={1521} size={30} italic bold>c</Txt>
    </div>
  );
}
